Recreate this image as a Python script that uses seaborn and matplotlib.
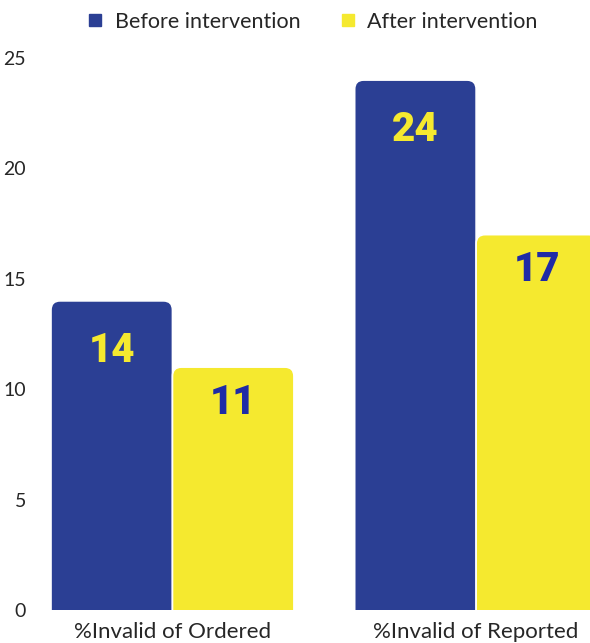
import pandas as pd
import seaborn as sns
import matplotlib.pyplot as plt
from matplotlib.patches import FancyBboxPatch
from matplotlib.lines import Line2D

categories = ['%Invalid of Ordered', '%Invalid of Reported']
before = [14, 24]
after = [11, 17]
series = ['Before intervention', 'After intervention']

bluecolor = '#2B3F94'
yellowcolor = '#F5E92F'
textcolors = {'Before intervention': '#F5E92F', 'After intervention': '#1F2BA6'}
# labels sit a bit lower in the blue bars than in the yellow ones
labeldrop = {'Before intervention': 2.25, 'After intervention': 1.6}

df = pd.DataFrame({'cat': categories * 2,
                   'val': before + after,
                   'period': [series[0]] * 2 + [series[1]] * 2})

sns.set_style('white')
plt.rcParams['font.family'] = ['Lato', 'DejaVu Sans']

fig = plt.figure(figsize=(5.9, 6.43), dpi=100)
ax = fig.add_axes([51 / 590, (643 - 610) / 643, 1 - 51 / 590, (610 - 58) / 643])
sns.barplot(x='cat', y='val', hue='period', data=df, palette=[bluecolor, yellowcolor],
            order=categories, hue_order=series, width=0.8, saturation=1,
            legend=False, ax=ax)

ax.set_xlim(-0.4, 1.375)
ax.set_ylim(0, 25)

# replace square bars with round-topped ones
xpp = 1.775 / 539.0
ypp = 25 / 552.0
aspect = ypp / xpp
for cont, name in zip(ax.containers, series):
    for bar in cont.patches:
        x, w, h = bar.get_x(), bar.get_width(), bar.get_height()
        col = bar.get_facecolor()
        bar.remove()
        fb = FancyBboxPatch((x, -2), w, h + 2,
                            boxstyle='round,pad=0,rounding_size=%f' % (9 * xpp),
                            mutation_aspect=aspect, facecolor=col,
                            edgecolor='white', linewidth=1.2)
        ax.add_patch(fb)
        ax.text(x + w / 2, h - labeldrop[name], str(int(h)), ha='center', va='center',
                fontsize=29, fontweight='heavy', color=textcolors[name],
                family=['Roboto', 'DejaVu Sans'])

sns.despine(ax=ax, left=True, bottom=True)
ax.set_xlabel('')
ax.set_ylabel('')
ax.set_yticks([0, 5, 10, 15, 20, 25])
ax.tick_params(axis='y', length=0, pad=18, labelsize=14)
ax.tick_params(axis='x', length=0, pad=9, labelsize=16)
for lab in ax.get_yticklabels():
    lab.set_horizontalalignment('right')

handles = [Line2D([], [], marker='s', linestyle='', markersize=8, color=c)
           for c in [bluecolor, yellowcolor]]
fig.legend(handles, series, loc='center', bbox_to_anchor=(311 / 590, 1 - 22 / 643),
           ncol=2, frameon=False, fontsize=15.5, handletextpad=0.4, columnspacing=1.7,
           handlelength=1.0)

fig.savefig('out.png', dpi=100)
